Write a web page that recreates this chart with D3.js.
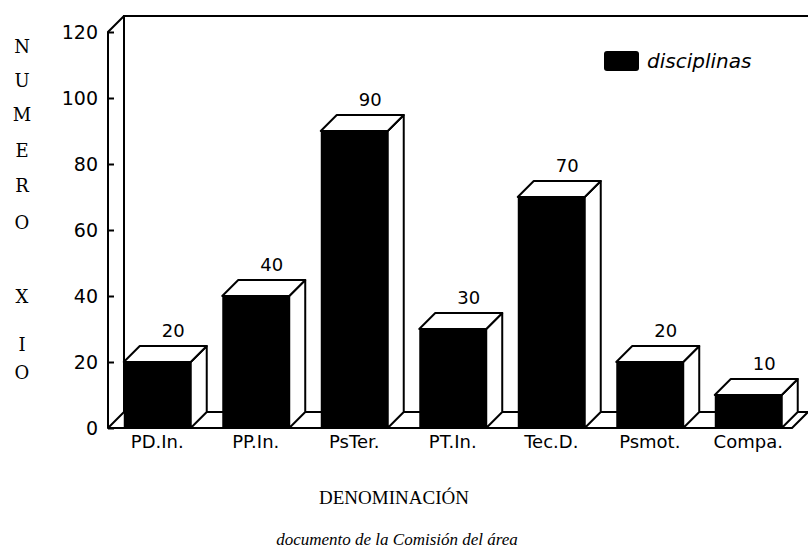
<!DOCTYPE html>
<html>
<head>
<meta charset="utf-8">
<script src="https://cdn.jsdelivr.net/npm/d3@7"></script>
<style>
  body { margin: 0; background: #fff; }
  #chart svg { display: block; }
</style>
</head>
<body>
<div id="chart"></div>
<script>
// data
const categories = ['PD.In.', 'PP.In.', 'PsTer.', 'PT.In.', 'Tec.D.', 'Psmot.', 'Compa.'];
const values = [20, 40, 90, 30, 70, 20, 10];
const yTicks = [0, 20, 40, 60, 80, 100, 120];
const yTitle = ['N', 'U', 'M', 'E', 'R', 'O', 'X', 'I', 'O'];
const seriesName = 'disciplinas';

const width = 808;
const height = 555;
const depth = 16; // 3d offset, right and up

const svg = d3.select('#chart')
  .append('svg')
  .attr('width', width)
  .attr('height', height);

const x = d3.scaleBand()
  .domain(categories)
  .range([108, 797.5])
  .paddingInner(0.32)
  .paddingOuter(0.16);

const y = d3.scaleLinear()
  .domain([0, 120])
  .range([428, 32]);

const line = d3.line();

// back wall + floor outline
const x0 = 108, xEnd = 792;
svg.append('path')
  .attr('d', line([[x0 + depth, y(0) - depth], [x0 + depth, y(120) - depth], [width, y(120) - depth]]))
  .attr('fill', 'none').attr('stroke', '#000').attr('stroke-width', 2);

svg.append('path')
  .attr('d', line([[x0, y(0)], [xEnd, y(0)], [xEnd + depth, y(0) - depth], [x0 + depth, y(0) - depth]]) + 'Z')
  .attr('fill', '#fff').attr('stroke', '#000').attr('stroke-width', 2).attr('stroke-linejoin', 'round');

// front axis with its slanted top
svg.append('path')
  .attr('d', line([[x0, y(0)], [x0, y(120)], [x0 + depth, y(120) - depth]]))
  .attr('fill', 'none').attr('stroke', '#000').attr('stroke-width', 2);

// Y axis ticks and labels
const yAxis = svg.append('g')
  .attr('transform', `translate(${x0},0)`)
  .call(d3.axisLeft(y).tickValues(yTicks).tickSize(-6).tickPadding(10));
yAxis.select('.domain').remove();
yAxis.selectAll('line').attr('stroke', '#000').attr('stroke-width', 2);
yAxis.selectAll('text')
  .attr('font-family', 'DejaVu Sans')
  .attr('font-size', 19)
  .attr('fill', '#000');

// bars
const bars = svg.selectAll('.bar')
  .data(values)
  .enter()
  .append('g')
  .attr('class', 'bar');

bars.each(function(v, i) {
  const g = d3.select(this);
  const bx = x(categories[i]);
  const bw = x.bandwidth();
  const top = y(v);
  const bot = y(0);
  // side face
  g.append('path')
    .attr('d', line([[bx + bw, bot], [bx + bw, top], [bx + bw + depth, top - depth], [bx + bw + depth, bot - depth]]) + 'Z')
    .attr('fill', '#fff').attr('stroke', '#000').attr('stroke-width', 2).attr('stroke-linejoin', 'round');
  // top face
  g.append('path')
    .attr('d', line([[bx, top], [bx + depth, top - depth], [bx + bw + depth, top - depth], [bx + bw, top]]) + 'Z')
    .attr('fill', '#fff').attr('stroke', '#000').attr('stroke-width', 2).attr('stroke-linejoin', 'round');
  // front face
  g.append('rect')
    .attr('x', bx).attr('y', top)
    .attr('width', bw).attr('height', bot - top)
    .attr('fill', '#000');
  // value label
  g.append('text')
    .attr('x', bx + bw / 2 + depth)
    .attr('y', top - depth - 9)
    .attr('text-anchor', 'middle')
    .attr('font-family', 'DejaVu Sans')
    .attr('font-size', 18)
    .text(v);
});

// category labels
svg.selectAll('.cat')
  .data(categories)
  .enter()
  .append('text')
  .attr('class', 'cat')
  .attr('x', d => x(d) + x.bandwidth() / 2)
  .attr('y', 448)
  .attr('text-anchor', 'middle')
  .attr('font-family', 'DejaVu Sans')
  .attr('font-size', 18)
  .text(d => d);

// y title, stacked letters
const titleY = [46, 80, 114, 150, 185, 222, 296, 344, 372];
svg.selectAll('.ytitle')
  .data(yTitle)
  .enter()
  .append('text')
  .attr('x', 22)
  .attr('y', (d, i) => titleY[i] + 7)
  .attr('text-anchor', 'middle')
  .attr('font-family', 'DejaVu Serif')
  .attr('font-size', 18)
  .text(d => d);

// legend
svg.append('rect')
  .attr('x', 604).attr('y', 51)
  .attr('width', 35).attr('height', 20)
  .attr('rx', 3)
  .attr('fill', '#000');
svg.append('text')
  .attr('x', 647).attr('y', 68)
  .attr('font-family', 'DejaVu Sans')
  .attr('font-style', 'italic')
  .attr('font-size', 20)
  .text(seriesName);

// axis title and source
svg.append('text')
  .attr('x', 394).attr('y', 504)
  .attr('text-anchor', 'middle')
  .attr('font-family', 'Liberation Serif')
  .attr('font-size', 19)
  .text('DENOMINACIÓN');

svg.append('text')
  .attr('x', 397).attr('y', 545)
  .attr('text-anchor', 'middle')
  .attr('font-family', 'Liberation Serif')
  .attr('font-style', 'italic')
  .attr('font-size', 17)
  .text('documento de la Comisión del área');
</script>
</body>
</html>
